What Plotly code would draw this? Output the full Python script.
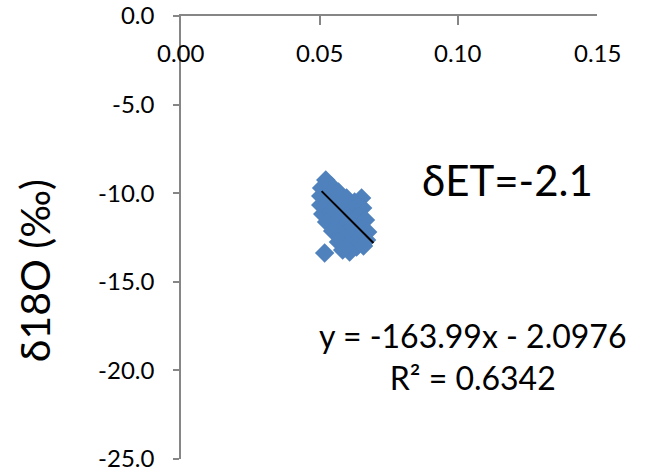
import plotly.graph_objects as go

# Scatter data
x_vals = [0.0522, 0.0507, 0.0543, 0.0504, 0.0536, 0.0568, 0.0597, 0.0651, 0.0626,
          0.0504, 0.0532, 0.0565, 0.0594, 0.0622, 0.0655, 0.0511, 0.0543, 0.0576,
          0.0608, 0.0640, 0.0665, 0.0525, 0.0558, 0.0590, 0.0622, 0.0655, 0.0673,
          0.0547, 0.0579, 0.0612, 0.0644, 0.0669, 0.0568, 0.0601, 0.0633, 0.0658,
          0.0608, 0.0583, 0.0518]
y_vals = [-9.26, -9.71, -9.59, -10.16, -10.05, -9.93, -10.27, -10.27, -10.50,
          -10.67, -10.55, -10.50, -10.78, -10.95, -10.84, -11.17, -11.06, -11.23,
          -11.40, -11.34, -11.51, -11.63, -11.74, -11.85, -11.91, -11.96, -12.19,
          -12.13, -12.36, -12.47, -12.53, -12.64, -12.75, -12.92, -13.04, -12.98,
          -13.32, -13.21, -13.37]

# Trend line as drawn in the picture
trend_x = [0.0507, 0.0694]
trend_slope = -156.7
trend_intercept = -1.94

x_ticks = [0.00, 0.05, 0.10, 0.15]
x_tick_text = ["0.00", "0.05", "0.10", "0.15"]
y_ticks = [-25, -20, -15, -10, -5, 0]
y_tick_text = ["-25.0", "-20.0", "-15.0", "-10.0", "-5.0", "0.0"]

label_det = "δET=-2.1"
label_eq = "y = -163.99x - 2.0976"
label_r2 = "R² = 0.6342"
y_title = "δ18O (‰)"

FONT = "Lato"

trend_y = [trend_slope * v + trend_intercept for v in trend_x]

fig = go.Figure()
fig.add_trace(go.Scatter(
    x=x_vals, y=y_vals, mode="markers",
    marker=dict(symbol="diamond", size=15, color="#4F81BD", line=dict(width=0)),
    showlegend=False, hoverinfo="skip", cliponaxis=False))
fig.add_trace(go.Scatter(
    x=trend_x, y=trend_y, mode="lines", line=dict(color="black", width=2),
    showlegend=False, hoverinfo="skip"))

axis_gray = "#868686"

annotations = []
for v, t in zip(x_ticks, x_tick_text):
    annotations.append(dict(text=t, x=v, xref="x", y=1, yref="paper", yshift=-36,
                            xanchor="center", yanchor="middle", showarrow=False,
                            font=dict(size=24, family=FONT, color="black")))
annotations += [
    dict(text=label_det, xref="paper", yref="paper", x=0.786, y=0.63,
         xanchor="center", yanchor="middle", showarrow=False,
         font=dict(size=42, family=FONT, color="black")),
    dict(text=label_eq + "<br>" + label_r2, xref="paper", yref="paper", x=0.70, y=0.232,
         xanchor="center", yanchor="middle", showarrow=False, align="center",
         font=dict(size=32, family=FONT, color="black")),
    dict(text=y_title, xref="paper", yref="paper", x=0, y=0.424, xshift=-147,
         xanchor="center", yanchor="middle", showarrow=False, textangle=-90,
         font=dict(size=41, family=FONT, color="black")),
]

fig.update_layout(
    width=650, height=475,
    margin=dict(l=181, r=53, t=16, b=16),
    paper_bgcolor="white", plot_bgcolor="white",
    font=dict(family=FONT, color="black"),
    xaxis=dict(range=[0, 0.15], side="top", showline=True, linecolor=axis_gray, linewidth=1.5,
               ticks="inside", ticklen=9, tickcolor=axis_gray, tickwidth=1.5,
               tickvals=x_ticks, showticklabels=False, automargin=False,
               showgrid=False, zeroline=False),
    yaxis=dict(range=[-25, 0], showline=True, linecolor=axis_gray, linewidth=1.5,
               ticks="outside", ticklen=6, tickcolor=axis_gray, tickwidth=1.5,
               tickvals=y_ticks, ticktext=y_tick_text, ticklabelstandoff=14,
               tickfont=dict(size=24, family=FONT, color="black"), automargin=False,
               showgrid=False, zeroline=False),
    annotations=annotations,
)

fig.write_html("out.html")
